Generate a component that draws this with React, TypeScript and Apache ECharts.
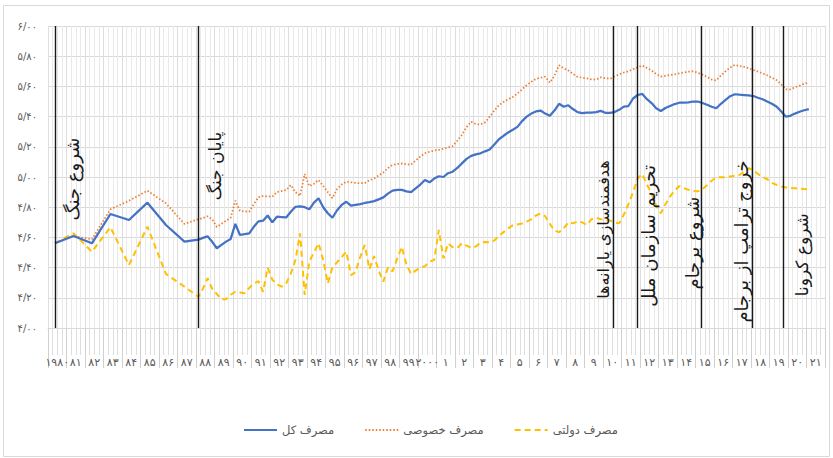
import React, { useEffect, useRef } from "react";
import * as echarts from "echarts";

// ---- data (log scale consumption index) ----
// annual observations 1980–1987 (plotted mid-year)
const annualYears = [1980, 1981, 1982, 1983, 1984, 1985, 1986, 1987];
const totalAnnual = [4.561, 4.609, 4.561, 4.755, 4.715, 4.83, 4.682, 4.572];
const privateAnnual = [4.561, 4.609, 4.587, 4.786, 4.843, 4.909, 4.826, 4.689];
const governmentAnnual = [4.561, 4.627, 4.505, 4.667, 4.417, 4.671, 4.358, 4.274];

// quarterly observations 1988Q1 – 2021Q1
const quarterlyStartYear = 1988;
const totalQuarterly = [
  4.585, 4.597, 4.607, 4.571, 4.528, 4.55, 4.572, 4.59, 4.69, 4.616, 4.622, 4.627,
  4.67, 4.706, 4.711, 4.745, 4.7, 4.737, 4.735, 4.732, 4.77, 4.803, 4.806, 4.8,
  4.786, 4.83, 4.859, 4.8, 4.76, 4.73, 4.78, 4.815, 4.836, 4.81, 4.815, 4.82,
  4.828, 4.833, 4.84, 4.852, 4.865, 4.89, 4.91, 4.915, 4.915, 4.905, 4.9, 4.925,
  4.95, 4.98, 4.965, 4.99, 5.005, 5.0, 5.025, 5.035, 5.06, 5.09, 5.12, 5.14,
  5.15, 5.157, 5.17, 5.182, 5.215, 5.25, 5.273, 5.295, 5.313, 5.332, 5.37, 5.4,
  5.42, 5.434, 5.44, 5.42, 5.405, 5.44, 5.485, 5.465, 5.475, 5.45, 5.43, 5.423,
  5.426, 5.426, 5.43, 5.438, 5.425, 5.425, 5.43, 5.445, 5.466, 5.47, 5.52, 5.543,
  5.55, 5.515, 5.49, 5.455, 5.437, 5.457, 5.47, 5.483, 5.492, 5.492, 5.494, 5.5,
  5.5, 5.49, 5.478, 5.465, 5.455, 5.485, 5.51, 5.535, 5.548, 5.545, 5.543, 5.54,
  5.536, 5.525, 5.515, 5.5, 5.485, 5.467, 5.435, 5.4, 5.405, 5.42, 5.432, 5.442,
  5.45,
];
const privateQuarterly = [
  4.72, 4.728, 4.74, 4.72, 4.669, 4.69, 4.71, 4.73, 4.843, 4.775, 4.772, 4.77,
  4.82, 4.866, 4.874, 4.872, 4.87, 4.9, 4.907, 4.914, 4.947, 4.9, 4.875, 5.02,
  4.94, 4.955, 4.98, 4.94, 4.9, 4.86, 4.92, 4.95, 4.969, 4.965, 4.961, 4.959,
  4.96, 4.978, 4.99, 5.01, 5.03, 5.06, 5.08, 5.086, 5.09, 5.084, 5.082, 5.11,
  5.135, 5.157, 5.167, 5.175, 5.18, 5.186, 5.195, 5.205, 5.24, 5.28, 5.33, 5.366,
  5.35, 5.348, 5.362, 5.4, 5.44, 5.475, 5.497, 5.515, 5.53, 5.553, 5.58, 5.609,
  5.63, 5.65, 5.657, 5.664, 5.625, 5.67, 5.74, 5.72, 5.705, 5.683, 5.663, 5.658,
  5.653, 5.647, 5.645, 5.66, 5.655, 5.65, 5.665, 5.68, 5.692, 5.7, 5.714, 5.726,
  5.738, 5.722, 5.705, 5.683, 5.665, 5.67, 5.675, 5.68, 5.686, 5.692, 5.698, 5.7,
  5.69, 5.678, 5.663, 5.645, 5.64, 5.672, 5.7, 5.725, 5.742, 5.735, 5.73, 5.72,
  5.709, 5.698, 5.686, 5.674, 5.658, 5.642, 5.615, 5.58, 5.58, 5.594, 5.605, 5.618,
  5.625,
];
const governmentQuarterly = [
  4.207, 4.26, 4.33, 4.26, 4.225, 4.19, 4.19, 4.22, 4.24, 4.235, 4.23, 4.265,
  4.295, 4.31, 4.24, 4.4, 4.32, 4.29, 4.274, 4.295, 4.36, 4.45, 4.627, 4.219,
  4.44, 4.5, 4.561, 4.45, 4.296, 4.4, 4.435, 4.47, 4.505, 4.35, 4.37, 4.47,
  4.55, 4.39, 4.477, 4.38, 4.307, 4.4, 4.375, 4.46, 4.538, 4.42, 4.358, 4.38,
  4.4, 4.41, 4.44, 4.45, 4.649, 4.461, 4.56, 4.535, 4.53, 4.561, 4.545, 4.53,
  4.54, 4.565, 4.57, 4.567, 4.58, 4.61, 4.635, 4.66, 4.68, 4.686, 4.692, 4.705,
  4.72, 4.745, 4.758, 4.74, 4.69, 4.645, 4.635, 4.66, 4.7, 4.693, 4.705, 4.7,
  4.682, 4.72, 4.73, 4.72, 4.715, 4.712, 4.7, 4.693, 4.75, 4.82, 4.9, 4.99,
  5.02, 4.95, 4.89, 4.81, 4.76, 4.82, 4.87, 4.91, 4.94, 4.926, 4.915, 4.908,
  4.905, 4.92, 4.945, 4.975, 4.998, 4.998, 4.998, 5.004, 5.008, 5.013, 5.035, 5.058,
  5.045, 5.02, 5.0, 4.985, 4.962, 4.948, 4.938, 4.931, 4.928, 4.926, 4.923, 4.92,
  4.918,
];

// events (vertical markers)
const eventYears = [1980.375, 1988.1, 2010.54, 2011.84, 2015.3, 2018.05, 2019.73];
const eventLabels = [
  "شروع جنگ",
  "پایان جنگ",
  "هدفمندسازی یارانه‌ها",
  "تحریم سازمان ملل",
  "شروع برجام",
  "خروج ترامپ از برجام",
  "شروع کرونا",
];

const seriesNames = ["مصرف کل", "مصرف خصوصی", "مصرف دولتی"];

// annotation layout (pixel offsets from marker line, top of text as y value)
const eventSide = [18, 17, -9, 11, -9, -10, 19];
const eventTextTop = [5.26, 5.3, 5.11, 5.08, 4.87, 5.11, 4.76];
const eventFontSize = [18, 17, 16, 18, 18, 18, 17];

const FA_DIGITS = "۰۱۲۳۴۵۶۷۸۹";
const toFa = (s: string) => s.replace(/\d/g, (d) => FA_DIGITS[Number(d)]);

function buildSeries(annual: number[], quarterly: number[]) {
  const pts: number[][] = [];
  annual.forEach((v, i) => pts.push([annualYears[i] + 0.375, v]));
  quarterly.forEach((v, i) => pts.push([quarterlyStartYear + (i + 0.5) / 4, v]));
  return pts;
}

const yearLabel = (v: number) => {
  const y = Math.round(v);
  if (y === 1980) return "۱۹۸۰";
  if (y < 2000) return toFa(String(y - 1900));
  if (y === 2000) return "۲۰۰۰";
  if (y <= 2021) return toFa(String(y - 2000));
  return "";
};

const FONT = "'DejaVu Sans', 'Noto Sans', sans-serif";

export default function App() {
  const ref = useRef<HTMLDivElement>(null);
  useEffect(() => {
    document.body.style.margin = "0";
    const chart = echarts.init(ref.current!, undefined, { renderer: "svg" });
    const option: any = {
      animation: false,
      backgroundColor: "#ffffff",
      grid: { left: 48, right: 8, top: 26, bottom: 130, containLabel: false },
      legend: {
        data: seriesNames,
        left: 238,
        top: 419,
        itemWidth: 33,
        itemHeight: 14,
        itemGap: 30,
        itemStyle: { opacity: 0 },
        textStyle: { fontFamily: FONT, fontSize: 11.5, color: "#595959" },
      },
      xAxis: {
        type: "value",
        min: 1980,
        max: 2022,
        interval: 1,
        axisLine: { show: true, lineStyle: { color: "#d9d9d9", width: 1 } },
        axisTick: { show: true, length: 40, lineStyle: { color: "#d0d0d0" } },
        minorTick: { show: true, splitNumber: 4, length: 27, lineStyle: { color: "#dedede" } },
        splitLine: { show: true, lineStyle: { color: "#dedede" } },
        minorSplitLine: { show: true, lineStyle: { color: "#e9e9e9" } },
        axisLabel: {
          margin: 29,
          fontSize: 11,
          fontFamily: FONT,
          color: "#595959",
          padding: [0, 0, 0, 18.5],
          showMaxLabel: false,
          formatter: yearLabel,
        },
      },
      yAxis: {
        type: "value",
        min: 4,
        max: 6,
        interval: 0.2,
        axisLine: { show: false },
        axisTick: { show: false },
        splitLine: { show: true, lineStyle: { color: "#d9d9d9" } },
        axisLabel: {
          margin: 11,
          fontSize: 10,
          fontFamily: FONT,
          color: "#595959",
          formatter: (v: number) => toFa(v.toFixed(2)).replace(".", "/"),
        },
      },
      series: [
        {
          name: seriesNames[1],
          type: "line",
          symbol: "none",
          data: buildSeries(privateAnnual, privateQuarterly),
          lineStyle: { color: "#ED7D31", width: 1.75, type: [1.5, 2] },
          itemStyle: { color: "#ED7D31" },
          z: 2,
        },
        {
          name: seriesNames[2],
          type: "line",
          symbol: "none",
          data: buildSeries(governmentAnnual, governmentQuarterly),
          lineStyle: { color: "#FFC000", width: 2, type: [6, 4] },
          itemStyle: { color: "#FFC000" },
          z: 3,
        },
        {
          name: seriesNames[0],
          type: "line",
          symbol: "none",
          data: buildSeries(totalAnnual, totalQuarterly),
          lineStyle: { color: "#4472C4", width: 2.25 },
          itemStyle: { color: "#4472C4" },
          z: 4,
          markLine: {
            silent: true,
            symbol: ["none", "none"],
            label: { show: false },
            lineStyle: { color: "#1a1a1a", width: 1.4, type: "solid" },
            data: eventYears.map((x) => ({ xAxis: x })),
          },
        },
      ],
    };
    chart.setOption(option);

    const graphics: any[] = [
      {
        type: "rect",
        shape: { x: 3.5, y: 5.5, width: 826, height: 451 },
        style: { fill: "none", stroke: "#d9d9d9", lineWidth: 1 },
        silent: true,
        z: -10,
      },
    ];
    eventYears.forEach((ey, i) => {
      const px = chart.convertToPixel({ xAxisIndex: 0 }, ey) as number;
      const py = chart.convertToPixel({ yAxisIndex: 0 }, eventTextTop[i]) as number;
      graphics.push({
        type: "text",
        x: px + eventSide[i],
        y: py,
        rotation: Math.PI / 2,
        style: {
          text: eventLabels[i],
          fontSize: eventFontSize[i],
          fontFamily: FONT,
          fill: "#1a1a1a",
          align: "right",
          verticalAlign: "middle",
        },
        z: 100,
      });
    });
    chart.setOption({ graphic: graphics });

    return () => chart.dispose();
  }, []);
  return <div ref={ref} style={{ width: 833, height: 458, position: "absolute", left: 0, top: 0 }} />;
}
